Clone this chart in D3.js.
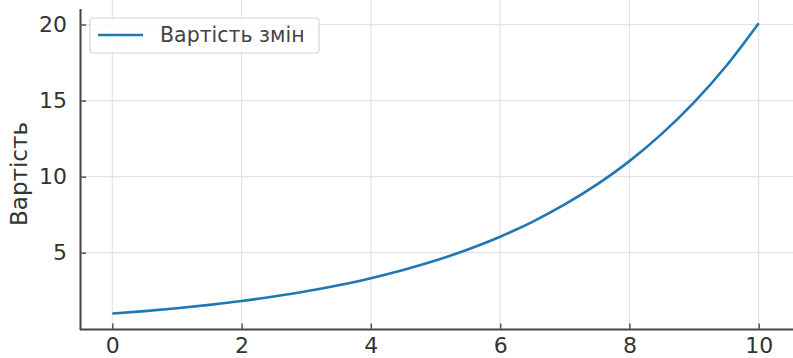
<!DOCTYPE html>
<html>
<head>
<meta charset="utf-8">
<script src="https://cdn.jsdelivr.net/npm/d3@7"></script>
<style>
  html, body { margin: 0; padding: 0; background: #fff; }
  svg { display: block; font-family: "DejaVu Sans", sans-serif; }
</style>
</head>
<body>
<svg id="chart" width="793" height="358"></svg>
<script>
// Cost of changes over time
const xValues = [0, 0.5, 1, 1.5, 2, 2.5, 3, 3.5, 4, 4.5, 5, 5.5, 6, 6.5, 7, 7.5, 8, 8.5, 9, 9.5, 10];
const costValues = [1.00, 1.16, 1.35, 1.57, 1.82, 2.12, 2.46, 2.86, 3.32, 3.86, 4.48, 5.21, 6.05, 7.03, 8.17, 9.49, 11.02, 12.81, 14.88, 17.29, 20.09];
const xTicks = [0, 2, 4, 6, 8, 10];
const yTicks = [5, 10, 15, 20];
const seriesName = "Вартість змін";
const yLabel = "Вартість";

const svg = d3.select("#chart");
const left = 80, right = 791, bottom = 329.5;

const x = d3.scaleLinear().domain([-0.5, 10.5]).range([left, right]);
const y = d3.scaleLinear().domain([-0.05, 21.05]).range([bottom, bottom - 21.1 * 15.21]);

// grid
svg.append("g").selectAll("line").data(xTicks).join("line")
  .attr("x1", d => x(d)).attr("x2", d => x(d))
  .attr("y1", 0).attr("y2", bottom)
  .attr("stroke", "#e3e3e3").attr("stroke-width", 1.2);
svg.append("g").selectAll("line").data(yTicks).join("line")
  .attr("x1", left).attr("x2", 793)
  .attr("y1", d => y(d)).attr("y2", d => y(d))
  .attr("stroke", "#e3e3e3").attr("stroke-width", 1.2);

// axes
const xAxis = svg.append("g").attr("transform", `translate(0,${bottom})`)
  .call(d3.axisBottom(x).tickValues(xTicks).tickFormat(d3.format("d")).tickSizeInner(-6).tickSizeOuter(0).tickPadding(8));
const yAxis = svg.append("g").attr("transform", `translate(${left},0)`)
  .call(d3.axisLeft(y).tickValues(yTicks).tickFormat(d3.format("d")).tickSizeInner(-6).tickSizeOuter(0).tickPadding(13));

[xAxis, yAxis].forEach(g => {
  g.select(".domain").attr("stroke", "#444").attr("stroke-width", 2);
  g.selectAll(".tick line").attr("stroke", "#555").attr("stroke-width", 1.5);
  g.selectAll(".tick text").attr("fill", "#333").attr("font-size", 22)
    .attr("font-family", "DejaVu Sans, sans-serif");
});
// x axis line runs from the left spine to the right edge
xAxis.select(".domain").attr("d", `M${left},0H${793}`);

// y axis label
svg.append("text")
  .attr("transform", `translate(27,174) rotate(-90)`)
  .attr("text-anchor", "middle")
  .attr("fill", "#333").attr("font-size", 23)
  .text(yLabel);

// series line
const line = d3.line()
  .x((d, i) => x(xValues[i]))
  .y(d => y(d))
  .curve(d3.curveMonotoneX);
svg.append("path").datum(costValues)
  .attr("d", line)
  .attr("fill", "none")
  .attr("stroke", "#1f77b4")
  .attr("stroke-width", 2.6);

// legend
const legend = svg.append("g");
legend.append("rect")
  .attr("x", 90).attr("y", 18).attr("width", 229).attr("height", 35)
  .attr("rx", 3).attr("fill", "#fff").attr("fill-opacity", 0.85)
  .attr("stroke", "#d6d6d6").attr("stroke-width", 1.2);
legend.append("line")
  .attr("x1", 98).attr("x2", 143).attr("y1", 35).attr("y2", 35)
  .attr("stroke", "#1f77b4").attr("stroke-width", 2.6);
legend.append("text")
  .attr("x", 160).attr("y", 42)
  .attr("fill", "#444").attr("font-size", 20.5)
  .text(seriesName);
</script>
</body>
</html>
